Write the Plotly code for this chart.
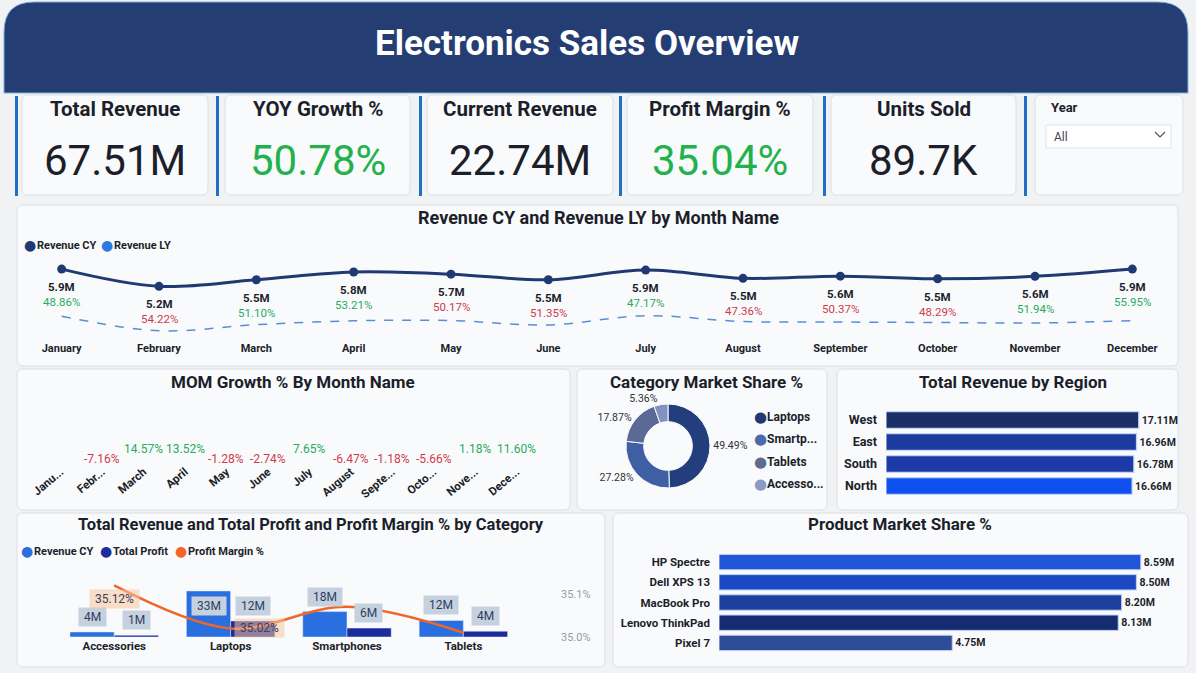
import plotly.graph_objects as go

# ---------------- data ----------------
kpi_titles = ["Total Revenue", "YOY Growth %", "Current Revenue", "Profit Margin %", "Units Sold"]
kpi_values = ["67.51M", "50.78%", "22.74M", "35.04%", "89.7K"]
kpi_positive = [False, True, False, True, False]

months = ["January", "February", "March", "April", "May", "June", "July",
          "August", "September", "October", "November", "December"]
month_short = ["Janu...", "Febr...", "March", "April", "May", "June", "July",
               "August", "Septe...", "Octo...", "Nove...", "Dece..."]
revenue_cy = [5.92, 5.21, 5.48, 5.80, 5.71, 5.48, 5.88, 5.54, 5.63, 5.52, 5.62, 5.92]
revenue_ly = [3.98, 3.38, 3.63, 3.79, 3.80, 3.62, 4.00, 3.76, 3.74, 3.72, 3.70, 3.80]
yoy_growth = [48.86, 54.22, 51.10, 53.21, 50.17, 51.35, 47.17, 47.36, 50.37, 48.29, 51.94, 55.95]
mom_growth = [None, -7.16, 14.57, 13.52, -1.28, -2.74, 7.65, -6.47, -1.18, -5.66, 1.18, 11.60]

pie_labels = ["Laptops", "Smartp...", "Tablets", "Accesso..."]
pie_share = [49.49, 27.28, 17.87, 5.36]

regions = ["West", "East", "South", "North"]
region_revenue = [17.11, 16.96, 16.78, 16.66]

categories = ["Accessories", "Laptops", "Smartphones", "Tablets"]
cat_revenue = [3.62, 33.41, 18.42, 12.06]
cat_profit = [1.27, 11.70, 6.46, 4.22]
cat_margin = [35.12, 35.02, 35.07, 35.01]

products = ["HP Spectre", "Dell XPS 13", "MacBook Pro", "Lenovo ThinkPad", "Pixel 7"]
product_revenue = [8.59, 8.50, 8.20, 8.13, 4.75]

year_options = ["All"]

# ---------------- style ----------------
W, H = 1196, 673
FONT = "Roboto, 'Noto Sans', 'DejaVu Sans', sans-serif"
DARK = "#1c1f2a"
GREEN = "#22b14c"
GREEN_S = "#2aaa5c"
RED = "#cf3a4c"
NAVY = "#243d73"
CARD_FILL = "#f9fafc"
CARD_LINE = "#dcdfe4"
ACCENT = "#1f6fc2"
PIE_COLORS = ["#223e7c", "#3f5fa5", "#5a6a94", "#8393c0"]
LEGEND_PIE_COLORS = ["#1f3a73", "#4a6aab", "#5f6b8f", "#8a9ac4"]


def X(px):
    return px / W


def Y(py):
    return 1 - py / H


def rrect(x0, y0, x1, y1, r, fill, line=CARD_LINE, lw=1, top_only=False):
    def p(x, y):
        return f"{X(x):.5f},{Y(y):.5f}"
    if top_only:
        path = (f"M {p(x0, y1)} L {p(x0, y0 + r)} Q {p(x0, y0)} {p(x0 + r, y0)} "
                f"L {p(x1 - r, y0)} Q {p(x1, y0)} {p(x1, y0 + r)} L {p(x1, y1)} Z")
    else:
        path = (f"M {p(x0 + r, y0)} L {p(x1 - r, y0)} Q {p(x1, y0)} {p(x1, y0 + r)} "
                f"L {p(x1, y1 - r)} Q {p(x1, y1)} {p(x1 - r, y1)} L {p(x0 + r, y1)} "
                f"Q {p(x0, y1)} {p(x0, y1 - r)} L {p(x0, y0 + r)} Q {p(x0, y0)} {p(x0 + r, y0)} Z")
    return dict(type="path", xref="paper", yref="paper", path=path, fillcolor=fill,
                line=dict(color=line, width=lw), layer="below")


def text_ann(px, py, text, size, color=DARK, xanchor="center", bold=False):
    return dict(x=X(px), y=Y(py), xref="paper", yref="paper", text=f"<b>{text}</b>" if bold else text,
                showarrow=False, xanchor=xanchor, yanchor="middle",
                font=dict(family=FONT, size=size, color=color))


def legend_item(dot_x, py, label, color, size=11):
    return [dict(x=X(dot_x), y=Y(py), xref="paper", yref="paper", text="●", showarrow=False,
                 xanchor="center", yanchor="middle",
                 font=dict(family="DejaVu Sans", size=size + 3, color=color)),
            text_ann(dot_x + 5, py, label, size, DARK, xanchor="left", bold=True)]


shapes = []
annotations = []

# header
shapes.append(rrect(4, 2, 1188, 93, 30, NAVY, line="#7fb3e0", lw=1, top_only=True))
annotations.append(text_ann(587, 44, "Electronics Sales Overview", 35, "white", bold=True))

# KPI cards
kpi_boxes = [(22, 208), (225, 410), (427, 613), (627, 813), (831, 1016)]
accent_x = [15, 216, 419, 619, 823, 1024]
for ax in accent_x:
    shapes.append(dict(type="rect", xref="paper", yref="paper", x0=X(ax), x1=X(ax + 3),
                       y0=Y(196), y1=Y(96), fillcolor=ACCENT, line=dict(width=0), layer="below"))
for (x0, x1), t, v, pos in zip(kpi_boxes, kpi_titles, kpi_values, kpi_positive):
    shapes.append(rrect(x0, 95, x1, 195, 6, CARD_FILL))
    annotations.append(text_ann((x0 + x1) / 2, 109, t, 20.5, DARK, bold=True))
    annotations.append(text_ann((x0 + x1) / 2, 160, v, 42, GREEN if pos else DARK))

# Year slicer
shapes.append(rrect(1035, 95, 1183, 195, 6, CARD_FILL))
annotations.append(text_ann(1049, 108, "Year", 13, DARK, xanchor="left", bold=True))
shapes.append(dict(type="rect", xref="paper", yref="paper", x0=X(1046), x1=X(1171), y0=Y(148), y1=Y(125),
                   fillcolor="white", line=dict(color="#e2e4e8", width=1), layer="below"))
annotations.append(text_ann(1052, 137, year_options[0], 12, "#444", xanchor="left"))
shapes.append(dict(type="path", xref="paper", yref="paper",
                   path=f"M {X(1155):.5f},{Y(132):.5f} L {X(1160):.5f},{Y(137):.5f} L {X(1165):.5f},{Y(132):.5f}",
                   line=dict(color="#555", width=1.2)))

# chart cards
cards = [(17, 205, 1178, 366), (17, 369, 570, 510), (577, 369, 827, 510),
         (837, 369, 1178, 510), (17, 513, 605, 667), (613, 513, 1188, 667)]
for c in cards:
    shapes.append(rrect(*c, 6, CARD_FILL))

titles = [(598, 218, "Revenue CY and Revenue LY by Month Name", 18),
          (293, 382, "MOM Growth % By Month Name", 17),
          (706, 382, "Category Market Share %", 17),
          (1013, 382, "Total Revenue by Region", 17),
          (311, 524, "Total Revenue and Total Profit and Profit Margin % by Category", 16.5),
          (900, 524, "Product Market Share %", 17)]
for x, y, t, s in titles:
    annotations.append(text_ann(x, y, t, s, DARK, bold=True))

# legends (Power BI style dot + label)
annotations += legend_item(30, 245, "Revenue CY", "#1f3a73")
annotations += legend_item(107, 245, "Revenue LY", "#2a7ae2")
annotations += legend_item(27, 551, "Revenue CY", "#2a6fdf")
annotations += legend_item(106, 551, "Total Profit", "#1a2b9c")
annotations += legend_item(181, 551, "Profit Margin %", "#f0662a")
for i, (lab, col) in enumerate(zip(pie_labels, LEGEND_PIE_COLORS)):
    annotations += legend_item(760, 417 + 22.3 * i, lab, col, size=12)

fig = go.Figure()

# ---------------- line chart ----------------
fig.add_trace(go.Scatter(x=months, y=revenue_ly, mode="lines", name="Revenue LY",
                         line=dict(color="#5b8dd6", width=1.5, dash="dash", shape="spline"),
                         showlegend=False, xaxis="x", yaxis="y", hoverinfo="skip"))
fig.add_trace(go.Scatter(x=months, y=revenue_cy, mode="lines+markers", name="Revenue CY",
                         line=dict(color="#1f3a73", width=3, shape="spline"),
                         marker=dict(size=9, color="#1f3a73"), showlegend=False, xaxis="x", yaxis="y",
                         cliponaxis=False))
for m, cy, yoy, mom in zip(months, revenue_cy, yoy_growth, mom_growth):
    col = GREEN_S if (mom is None or mom >= 0) else RED
    annotations.append(dict(x=m, y=cy, xref="x", yref="y", text=f"<b>{cy:.1f}M</b>", showarrow=False,
                            yshift=-18, font=dict(family=FONT, size=11.5, color=DARK)))
    annotations.append(dict(x=m, y=cy, xref="x", yref="y", text=f"{yoy:.2f}%", showarrow=False,
                            yshift=-33, font=dict(family=FONT, size=11.5, color=col)))

# ---------------- MOM ----------------
fig.add_trace(go.Bar(x=months, y=mom_growth, marker=dict(opacity=0), showlegend=False, name="MOM Growth %",
                     xaxis="x2", yaxis="y2", hoverinfo="skip"))
for m, v in zip(months, mom_growth):
    if v is None:
        continue
    annotations.append(dict(x=m, y=v, xref="x2", yref="y2", text=f"{v:.2f}%", showarrow=False,
                            yshift=5 if v >= 0 else -5,
                            font=dict(family=FONT, size=12, color=GREEN_S if v >= 0 else RED)))

# ---------------- pie ----------------
fig.add_trace(go.Pie(labels=pie_labels, values=pie_share, hole=0.58, sort=False, direction="clockwise",
                     rotation=0, marker=dict(colors=PIE_COLORS, line=dict(color=CARD_FILL, width=1)),
                     textposition="outside", texttemplate="%{percent:.2%}",
                     textfont=dict(family=FONT, size=10.5, color="#333"), showlegend=False,
                     domain=dict(x=[X(626), X(710)], y=[Y(488), Y(404)])))

# ---------------- region ----------------
fig.add_trace(go.Bar(x=region_revenue, y=regions, orientation="h", name="Total Revenue",
                     marker=dict(color=["#1b2f67", "#1c3b9e", "#1c3ba8", "#0e50ef"],
                                 line=dict(color="#c3d2f2", width=1.2)),
                     texttemplate="%{x:.2f}M", textposition="outside", cliponaxis=False,
                     textfont=dict(family=FONT, size=10.5, color=DARK, weight="bold"),
                     showlegend=False, xaxis="x3", yaxis="y3"))

# ---------------- combo ----------------
fig.add_trace(go.Bar(x=categories, y=cat_revenue, name="Revenue CY", marker=dict(color="#2a6fdf"),
                     showlegend=False, xaxis="x4", yaxis="y4", offsetgroup="rev"))
fig.add_trace(go.Bar(x=categories, y=cat_profit, name="Total Profit", marker=dict(color="#1a2b9c"),
                     showlegend=False, xaxis="x4", yaxis="y4", offsetgroup="prof"))
fig.add_trace(go.Scatter(x=categories, y=cat_margin, mode="lines", name="Profit Margin %",
                         line=dict(color="#f0662a", width=2.5, shape="spline"),
                         showlegend=False, xaxis="x4", yaxis="y5", cliponaxis=False))
for c, rv, pf in zip(categories, cat_revenue, cat_profit):
    for v, xs in [(rv, -22), (pf, 22)]:
        annotations.append(dict(x=c, y=v, xref="x4", yref="y4", text=f" {round(v)}M ", showarrow=False,
                                xshift=xs, yshift=-15 if v > 25 else 15, bgcolor="#c6d1e0", borderpad=2,
                                font=dict(family=FONT, size=12, color="#2e3d5e")))
margin_label_offsets = [(0, -14), (29, 0)]
for (c, mg), (dx, dy) in zip(zip(categories, cat_margin), margin_label_offsets):
    annotations.append(dict(x=c, y=mg, xref="x4", yref="y5", text=f" {mg:.2f}% ", showarrow=False,
                            xshift=dx, yshift=dy, bgcolor="rgba(248,196,156,0.55)", borderpad=2,
                            font=dict(family=FONT, size=12, color="#3b3f5c")))

# ---------------- products ----------------
fig.add_trace(go.Bar(x=product_revenue, y=products, orientation="h", name="Product Revenue",
                     marker=dict(color=["#1f57d8", "#1b49c4", "#1c3f9d", "#152d70", "#2e4c98"],
                                 line=dict(color="#c3d2f2", width=1)),
                     texttemplate="%{x:.2f}M", textposition="outside", cliponaxis=False,
                     textfont=dict(family=FONT, size=10.5, color=DARK, weight="bold"),
                     showlegend=False, xaxis="x5", yaxis="y6"))

hidden = dict(visible=False, showgrid=False, zeroline=False)
tickf = dict(family=FONT, size=11.5, color=DARK, weight="bold")

fig.update_layout(
    width=W, height=H, autosize=False,
    margin=dict(l=0, r=0, t=0, b=0, autoexpand=False),
    paper_bgcolor="#f1f2f4", plot_bgcolor="rgba(0,0,0,0)",
    font=dict(family=FONT, color=DARK),
    barmode="group", bargap=0.24, bargroupgap=0,
    shapes=shapes, annotations=annotations,
    hovermode=False, showlegend=False,
    xaxis=dict(domain=[X(13), X(1181)], range=[-0.5, 11.5], showgrid=False, zeroline=False, showline=False,
               ticks="", tickfont=dict(family=FONT, size=11, color=DARK, weight="bold"), anchor="y",
               categoryorder="array", categoryarray=months),
    yaxis=dict(domain=[Y(340), Y(255)], range=[3.0, 6.5], anchor="x", **hidden),
    xaxis2=dict(domain=[X(40), X(538)], showgrid=False, zeroline=False, showline=False, ticks="",
                tickangle=-40, tickmode="array", tickvals=months, ticktext=month_short,
                tickfont=dict(family=FONT, size=11.5, color=DARK, weight="bold"), anchor="y2"),
    yaxis2=dict(domain=[Y(462), Y(400)], range=[-800, 5400], anchor="x2", **hidden),
    xaxis3=dict(domain=[X(886), X(1174)], range=[0, 19.5], anchor="y3", **hidden),
    yaxis3=dict(domain=[Y(497), Y(409)], autorange="reversed", anchor="x3", showgrid=False, zeroline=False,
                showline=False, ticks="", ticklabelstandoff=8,
                tickfont=dict(family=FONT, size=12.5, color=DARK, weight="bold")),
    xaxis4=dict(domain=[X(56), X(560)], range=[-0.5, 3.83], anchor="y4", showgrid=False, zeroline=False,
                showline=False, ticks="", tickfont=tickf),
    yaxis4=dict(domain=[Y(637), Y(575)], range=[0, 45], anchor="x4", **hidden),
    yaxis5=dict(overlaying="y4", side="right", anchor="x4", range=[35.0, 35.144], tickmode="array",
                tickvals=[35.0, 35.1], ticktext=["35.0%", "35.1%"], showgrid=False, zeroline=False,
                showline=False, ticks="", tickfont=dict(family=FONT, size=11, color="#9a9a9a")),
    xaxis5=dict(domain=[X(719), X(1185)], range=[0, 9.49], anchor="y6", **hidden),
    yaxis6=dict(domain=[Y(653), Y(552)], autorange="reversed", anchor="x5", showgrid=False, zeroline=False,
                showline=False, ticks="", ticklabelstandoff=8, tickfont=tickf),
)

fig.write_html("out.html", config={"displayModeBar": False},
               post_script="document.body.style.margin='0';document.body.style.overflow='hidden';")
